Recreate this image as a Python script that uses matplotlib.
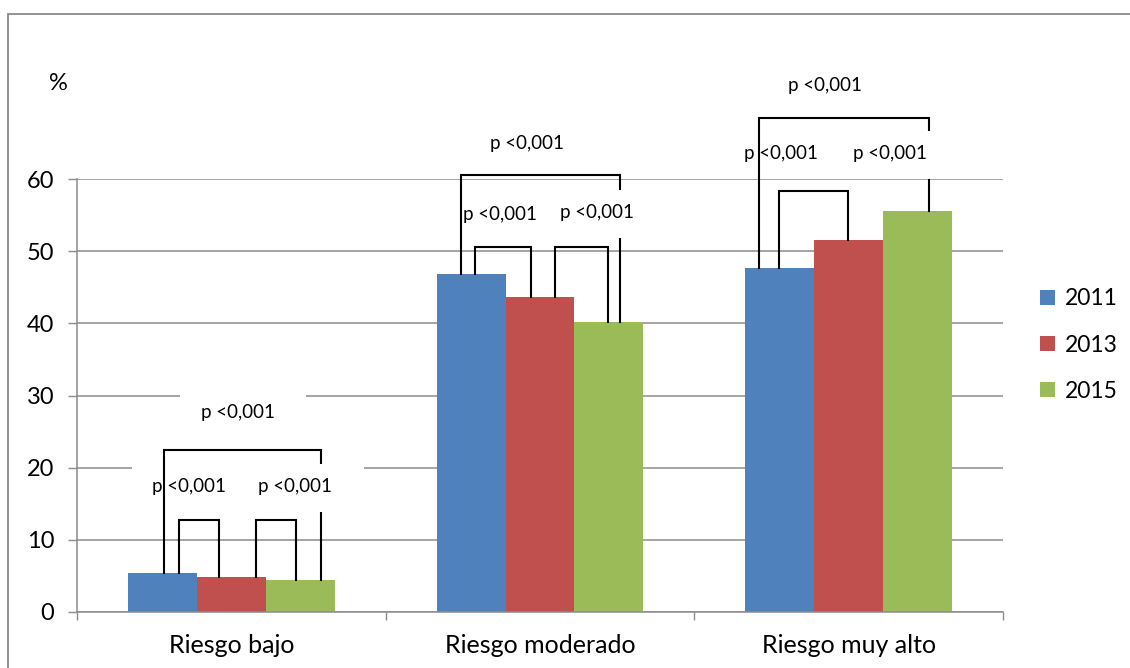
import matplotlib
matplotlib.use("Agg")
import matplotlib.pyplot as plt
from matplotlib.patches import Rectangle

# datos
categorias = ["Riesgo bajo", "Riesgo moderado", "Riesgo muy alto"]
anios = ["2011", "2013", "2015"]
v2011 = [5.4, 46.9, 47.6]
v2013 = [4.8, 43.6, 51.5]
v2015 = [4.4, 40.2, 55.5]
etiqueta_p = "p <0,001"

colores = ["#4F81BD", "#C0504D", "#9BBB59"]
gris = "#8c8c8c"

plt.rcParams["font.family"] = ["Lato", "DejaVu Sans"]

fig = plt.figure(figsize=(11.3, 6.68), dpi=100)
ax = fig.add_axes([77 / 1130, 56 / 668, 926 / 1130, 433 / 668])

ancho = 0.2235
series = [v2011, v2013, v2015]
for k, vals in enumerate(series):
    xs = [i + (k - 1) * ancho for i in range(len(categorias))]
    ax.bar(xs, vals, width=ancho, color=colores[k], linewidth=0, label=anios[k], zorder=2)

ax.set_xlim(-0.5, 2.5)
ax.set_ylim(0, 60)
ax.set_yticks(range(0, 61, 10))
ax.set_xticks(range(len(categorias)))
ax.set_xticklabels(categorias)
ax.set_xticks([-0.5, 0.5, 1.5, 2.5], minor=True)
ax.tick_params(axis="x", which="major", length=0, pad=16, labelsize=18)
ax.tick_params(axis="x", which="minor", length=6, width=1, color=gris, direction="out")
ax.tick_params(axis="y", length=6.5, width=1, color=gris, pad=10, labelsize=17)
ax.yaxis.grid(True, color=gris, linewidth=1.1)
ax.set_axisbelow(True)
for s in ["top", "right"]:
    ax.spines[s].set_visible(False)
for s in ["left", "bottom"]:
    ax.spines[s].set_color(gris)
    ax.spines[s].set_linewidth(1.1)

# corchetes de comparacion: (categoria, barra izq, barra der, x izq, x der, altura)
corchetes = [
    (0, 0, 2, -0.2175, 0.2906, 22.5),
    (0, 0, 1, -0.170, -0.0395, 12.7),
    (0, 1, 2, 0.0793, 0.2087, 12.7),
    (1, 0, 2, -0.257, 0.2595, 60.6),
    (1, 0, 1, -0.212, -0.0285, 50.6),
    (1, 1, 2, 0.050, 0.2207, 50.6),
    (2, 0, 2, -0.2896, 0.2605, 68.4),
    (2, 0, 1, -0.227, -0.0006, 58.4),
]
# posiciones de los textos p
textos = [
    (0, 0.021, 27.6), (0, -0.137, 17.4), (0, 0.207, 17.4),
    (1, -0.043, 64.9), (1, -0.129, 55.1), (1, 0.184, 55.4),
    (2, -0.077, 73.0), (2, -0.218, 63.6), (2, 0.133, 63.6),
]

for cat, b1, b2, x1, x2, top in corchetes:
    y1 = series[b1][cat]
    y2 = series[b2][cat]
    ax.plot([cat + x1, cat + x2], [top, top], color="black", lw=1.5,
            clip_on=False, zorder=3, solid_capstyle="butt")
    ax.plot([cat + x1, cat + x1], [y1, top], color="black", lw=1.5,
            clip_on=False, zorder=4.5, solid_capstyle="projecting")
    ax.plot([cat + x2, cat + x2], [y2, top], color="black", lw=1.5,
            clip_on=False, zorder=3, solid_capstyle="projecting")

for cat, dx, y in textos:
    ax.add_patch(Rectangle((cat + dx + 0.018 - 0.204, y - 0.28 - 3.32), 0.408, 6.64,
                           facecolor="white", edgecolor="none", zorder=3.5, clip_on=False))
    ax.text(cat + dx, y, etiqueta_p, ha="center", va="center", fontsize=13.5,
            zorder=4, clip_on=False)

fig.text(58 / 1130, 1 - 83 / 668, "%", ha="center", va="center", fontsize=17)

fig.legend(loc="center left", bbox_to_anchor=(1040 / 1130, 1 - 345 / 668),
           frameon=False, fontsize=16.5, handlelength=0.65, handleheight=0.65,
           handletextpad=0.45, labelspacing=1.1, borderpad=0, borderaxespad=0)

# marco exterior
fig.patches.append(Rectangle((8 / 1130, -0.1), 1.2, 1.1 - 14.5 / 668, transform=fig.transFigure,
                             fill=False, edgecolor="#8a8a8a", linewidth=1.3))

fig.savefig("out.png", dpi=100)
